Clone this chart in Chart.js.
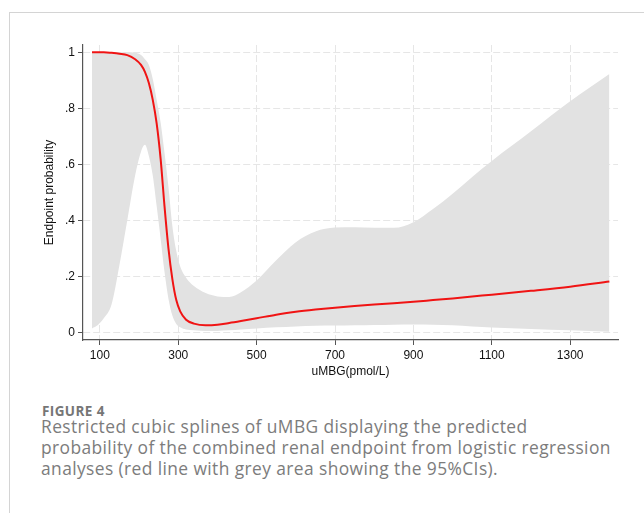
<!DOCTYPE html>
<html>
<head>
<meta charset="utf-8">
<script src="https://cdn.jsdelivr.net/npm/chart.js@4/dist/chart.umd.min.js"></script>
<style>
  body { margin: 0; background: #fff; width: 644px; height: 513px; overflow: hidden; position: relative; }
  #card { position: absolute; left: 9px; top: 12px; width: 640px; height: 510px; border-top: 1px solid #d4d4d4; border-left: 1px solid #d4d4d4; }
  #wrap { position: absolute; left: 0; top: 0; width: 644px; height: 400px; }
  #fig { position: absolute; left: 42px; top: 402px; font-family: "Open Sans", Lato, sans-serif; font-size: 13.5px; font-weight: bold; color: #767676; letter-spacing: 0.4px; }
  #cap { position: absolute; left: 41px; top: 416px; font-family: "Open Sans", Lato, sans-serif; font-size: 17.4px; line-height: 21px; color: #7c7c7c; white-space: nowrap; letter-spacing: 0.4px; }
</style>
</head>
<body>
<div id="card"></div>
<div id="wrap"><canvas id="grafico"></canvas></div>
<div id="fig">FIGURE 4</div>
<div id="cap">Restricted cubic splines of uMBG displaying the predicted<br>probability of the combined renal endpoint from logistic regression<br>analyses (red line with grey area showing the 95%CIs).</div>
<script>
// uMBG values (pmol/L)
const umbg = [80, 95, 110, 130, 150, 170, 190, 205, 215, 225, 235, 245, 255, 265, 275, 285, 295, 305, 320, 340,
    370, 400, 430, 460, 500, 550, 600, 650, 700, 750, 800, 850, 900, 950, 1000, 1050, 1100, 1200, 1300, 1400];

// predicted probability
const prob = [1.0, 1.0, 1.0, 0.998, 0.995, 0.99, 0.975, 0.955, 0.93, 0.89, 0.83, 0.745, 0.62, 0.45, 0.30, 0.19, 0.115, 0.075, 0.045, 0.031,
    0.025, 0.027, 0.033, 0.04, 0.05, 0.063, 0.073, 0.081, 0.088, 0.094, 0.099, 0.104, 0.109, 0.115, 0.121, 0.128, 0.134, 0.148, 0.163, 0.181];

// 95% CI
const upper = [1.0, 1.0, 1.0, 1.0, 1.0, 1.0, 0.998, 0.99, 0.975, 0.955, 0.905, 0.83, 0.75, 0.64, 0.52, 0.38, 0.29, 0.235, 0.195, 0.165,
    0.14, 0.128, 0.126, 0.143, 0.185, 0.257, 0.322, 0.36, 0.374, 0.375, 0.373, 0.373, 0.393, 0.44, 0.495, 0.555, 0.612, 0.718, 0.825, 0.922];
const lower = [0.014, 0.026, 0.05, 0.1, 0.24, 0.40, 0.56, 0.645, 0.67, 0.63, 0.56, 0.45, 0.335, 0.215, 0.12, 0.06, 0.03, 0.018, 0.01, 0.007,
    0.005, 0.005, 0.007, 0.01, 0.014, 0.018, 0.021, 0.023, 0.024, 0.025, 0.026, 0.027, 0.028, 0.027, 0.025, 0.021, 0.017, 0.012, 0.007, 0.002];

const xTicks = [100, 300, 500, 700, 900, 1100, 1300];
const yTicks = [0, 0.2, 0.4, 0.6, 0.8, 1];
const yLabels = ['0', '.2', '.4', '.6', '.8', '1'];

function pontos(ys) {
    var out = [];
    for (var i = 0; i < umbg.length; i++) {
        out.push({x: umbg[i], y: ys[i]});
    }
    return out;
}

const fonte = {family: 'Liberation Sans, Arial, sans-serif', size: 12};

const data = {
    datasets: [{
        label: 'Predicted',
        data: pontos(prob),
        borderColor: 'rgb(240, 20, 20)',
        borderWidth: 2,
        pointRadius: 0,
        cubicInterpolationMode: 'monotone',
        fill: false
    }, {
        label: 'Upper',
        data: pontos(upper),
        borderColor: 'rgba(0,0,0,0)',
        borderWidth: 0,
        pointRadius: 0,
        cubicInterpolationMode: 'monotone',
        backgroundColor: 'rgb(226, 226, 226)',
        fill: '+1'
    }, {
        label: 'Lower',
        data: pontos(lower),
        borderColor: 'rgba(0,0,0,0)',
        borderWidth: 0,
        pointRadius: 0,
        cubicInterpolationMode: 'monotone',
        fill: false
    }]
};

const config = {
    type: 'line',
    data: data,
    options: {
        responsive: false,
        animation: false,
        layout: {padding: {left: 0, right: 26, top: 45, bottom: 0}},
        plugins: {legend: {display: false}, tooltip: {enabled: false}},
        scales: {
            x: {
                type: 'linear',
                min: 57,
                max: 1422,
                afterFit: function (s) { s.height = 60; },
                afterBuildTicks: function (s) { s.ticks = xTicks.map(function (v) { return {value: v}; }); },
                ticks: {
                    color: '#111', font: fonte, padding: 3, maxRotation: 0, autoSkip: false,
                    callback: function (v) { return String(v); }
                },
                grid: {color: '#e6e6e6', tickColor: '#555', tickLength: 5, drawTicks: true},
                border: {display: true, color: '#555', width: 1.2, dash: [7, 3]},
                title: {display: true, text: 'uMBG(pmol/L)', color: '#111', font: fonte, padding: {top: 0, bottom: 20.8}}
            },
            y: {
                min: -0.0275,
                max: 1.026,
                afterFit: function (s) { s.width = 83; },
                afterBuildTicks: function (s) { s.ticks = yTicks.map(function (v) { return {value: v}; }); },
                ticks: {
                    color: '#111', font: fonte, padding: 3,
                    callback: function (v) { return yLabels[yTicks.indexOf(Math.round(v * 10) / 10)]; }
                },
                grid: {color: '#e6e6e6', tickColor: '#555', tickLength: 5, drawTicks: true},
                border: {display: true, color: '#555', width: 1.2, dash: [7, 3]},
                title: {display: true, text: 'Endpoint probability', color: '#111', font: fonte, padding: {top: 42.8, bottom: 0}}
            }
        }
    }
};

const canvas = document.getElementById('grafico');
canvas.width = 644;
canvas.height = 400;
const myChart = new Chart(canvas, config);
</script>
</body>
</html>
